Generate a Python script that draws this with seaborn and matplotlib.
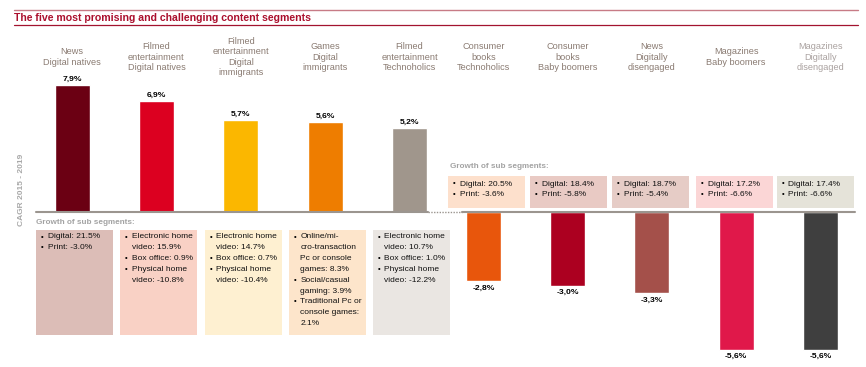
import numpy as np
import matplotlib
matplotlib.use("Agg")
import matplotlib.pyplot as plt
from matplotlib.patches import Rectangle
from matplotlib.lines import Line2D
import matplotlib.transforms as mtrans
import seaborn as sns
import pandas as pd

# ---------------- data ----------------
title = "The five most promising and challenging content segments"
ylabel = "CAGR 2015 - 2019"
sub_title = "Growth of sub segments:"

top_categories = ["News\nDigital natives", "Filmed\nentertainment\nDigital natives",
                  "Filmed\nentertainment\nDigital\nimmigrants", "Games\nDigital\nimmigrants",
                  "Filmed\nentertainment\nTechnoholics"]
top_values = [7.9, 6.9, 5.7, 5.6, 5.2]

bottom_categories = ["Consumer\nbooks\nTechnoholics", "Consumer\nbooks\nBaby boomers",
                     "News\nDigitally\ndisengaged", "Magazines\nBaby boomers",
                     "Magazines\nDigitally\ndisengaged"]
bottom_values = [-2.8, -3.0, -3.3, -5.6, -5.6]

top_sub = [
    ["Digital: 21.5%", "Print: -3.0%"],
    ["Electronic home\nvideo: 15.9%", "Box office: 0.9%", "Physical home\nvideo: -10.8%"],
    ["Electronic home\nvideo: 14.7%", "Box office: 0.7%", "Physical home\nvideo: -10.4%"],
    ["Online/mi-\ncro-transaction\nPc or console\ngames: 8.3%", "Social/casual\ngaming: 3.9%",
     "Traditional Pc or\nconsole games:\n2.1%"],
    ["Electronic home\nvideo: 10.7%", "Box office: 1.0%", "Physical home\nvideo: -12.2%"],
]
bottom_sub = [
    ["Digital: 20.5%", "Print: -3.6%"],
    ["Digital: 18.4%", "Print: -5.8%"],
    ["Digital: 18.7%", "Print: -5.4%"],
    ["Digital: 17.2%", "Print: -6.6%"],
    ["Digital: 17.4%", "Print: -6.6%"],
]

# ---------------- styles ----------------
top_colors = ["#6b0013", "#dc0020", "#fbb700", "#ee7d00", "#a0968c"]
bottom_colors = ["#e8560c", "#ac0020", "#a4504a", "#e0184a", "#3f3f3f"]
top_box_colors = ["#dcbdb7", "#f9d1c5", "#fef0d1", "#fde5cb", "#eae6e2"]
bottom_box_colors = ["#fde0cc", "#e9cac4", "#e6ccc6", "#fbd6d6", "#e5e3d9"]
label_color = "#8a7b72"
W, H = 866, 367

sns.set_theme(style="white")
plt.rcParams["font.family"] = ["Liberation Sans", "DejaVu Sans"]

fig = plt.figure(figsize=(W / 100, H / 100), dpi=100)
fig.patch.set_facecolor("white")

def fx(x):
    return x / W

def fy(y):
    return 1 - y / H

POS_PX, NEG_PX = 16.1, 24.6
def fwd(v):
    v = np.asarray(v, dtype=float)
    return np.where(v >= 0, v * POS_PX, v * NEG_PX)

def inv(t):
    t = np.asarray(t, dtype=float)
    return np.where(t >= 0, t / POS_PX, t / NEG_PX)

base_y = 212
ax_top, ax_bot = 30, 360
ylim = (-(ax_bot - base_y) / NEG_PX, (base_y - ax_top) / POS_PX)

def make_axes(left_px, width_px, cats, vals, colors):
    ax = fig.add_axes([fx(left_px), fy(ax_bot), fx(width_px), (ax_bot - ax_top) / H])
    ax.patch.set_alpha(0)
    df = pd.DataFrame({"cat": cats, "val": vals})
    sns.barplot(data=df, x="cat", y="val", hue="cat", palette=colors, width=0.415,
                legend=False, ax=ax, saturation=1)
    ax.set_yscale("function", functions=(fwd, inv))
    ax.set_ylim(*ylim)
    ax.set_xlim(-0.5, len(cats) - 0.5)
    for s in ax.spines.values():
        s.set_visible(False)
    ax.set_xticks([]); ax.set_yticks([])
    ax.set_xlabel(""); ax.set_ylabel("")
    return ax

axL = make_axes(29.9, 421.75, top_categories, top_values, top_colors)
axR = make_axes(441.3, 421.25, bottom_categories, bottom_values, bottom_colors)

# value labels
for ax, vals in ((axL, top_values), (axR, bottom_values)):
    for i, v in enumerate(vals):
        txt = f"{v:.1f}".replace(".", ",") + "%"
        ax.annotate(txt, (i, v), xytext=(0, 1.5 if v > 0 else -2.5), textcoords="offset points",
                    ha="center", va="bottom" if v > 0 else "top", fontsize=6.1,
                    fontweight="bold", color="black")

# category labels above
for ax, cats in ((axL, top_categories), (axR, bottom_categories)):
    tr = mtrans.blended_transform_factory(ax.transData, fig.transFigure)
    for i, c in enumerate(cats):
        col = "#aaa2a0" if (ax is axR and i == 4) else label_color
        ax.text(i, fy(57), c, transform=tr, ha="center", va="center", fontsize=6.6,
                color=col, linespacing=1.2)

# title & rules
fig.add_artist(Line2D([fx(14), fx(858)], [fy(10), fy(10)], color="#c77b86", lw=1.0))
fig.add_artist(Line2D([fx(14), fx(858)], [fy(25), fy(25)], color="#a3132f", lw=0.9))
fig.text(fx(14), fy(18), title, fontsize=7.6, fontweight="bold", color="#ab0f2d",
         ha="left", va="center")

# baseline
gray = "#9b958f"
fig.add_artist(Line2D([fx(36), fx(428)], [fy(base_y), fy(base_y)], color=gray, lw=1.5))
fig.add_artist(Line2D([fx(428), fx(462)], [fy(base_y), fy(base_y)], color=gray, lw=1.0,
                      linestyle=(0, (1, 1))))
fig.add_artist(Line2D([fx(462), fx(855)], [fy(base_y), fy(base_y)], color=gray, lw=1.5))

# y label
fig.text(fx(22), fy(190), ylabel, rotation=90, fontsize=6, fontweight="bold",
         color="#a8a8a8", ha="center", va="center")

# sub segment boxes
def draw_box(x0, y0, w, h, color, items, line_h, first_y):
    fig.add_artist(Rectangle((fx(x0), fy(y0 + h)), fx(w), h / H, transform=fig.transFigure,
                             facecolor=color, edgecolor="none"))
    y = first_y
    for it in items:
        lines = it.split("\n")
        fig.text(fx(x0 + 4.5), fy(y), "\u2022", fontsize=5.5, color="black", ha="left", va="center")
        for ln in lines:
            fig.text(fx(x0 + 11.5), fy(y), ln, fontsize=6.0, color="#111111", ha="left",
                     va="center")
            y += line_h

fig.text(fx(36), fy(222), sub_title, fontsize=5.9, fontweight="bold", color="#a3a3a3",
         ha="left", va="center")
for x0, col, items in zip([36, 120, 205, 289, 373], top_box_colors, top_sub):
    draw_box(x0, 230, 77, 105, col, items, 10.8, 237)

fig.text(fx(450), fy(166), sub_title, fontsize=5.9, fontweight="bold", color="#a3a3a3",
         ha="left", va="center")
for x0, col, items in zip([448, 530, 612, 696, 777], bottom_box_colors, bottom_sub):
    draw_box(x0, 176, 77, 32, col, items, 10.3, 184)

fig.savefig("out.png", dpi=100, facecolor="white")
